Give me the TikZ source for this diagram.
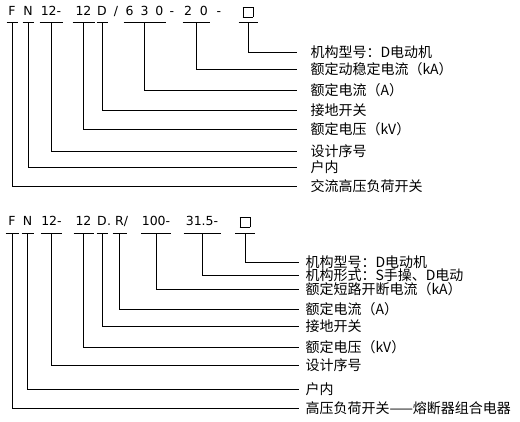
\documentclass[tikz,border=0pt]{standalone}
\usepackage{fontspec}
\newfontfamily\cjk{Noto Sans CJK SC}
\newfontfamily\codefont{DejaVu Sans}
\usepackage{tikz}
\newcommand{\modelbox}{{\setlength\fboxsep{0pt}\setlength\fboxrule{0.9pt}\fbox{\rule{0pt}{9pt}\hspace{9pt}}}}

\begin{document}
\begin{tikzpicture}[x=1pt,y=-1pt,line width=1pt]
\tikzstyle{code}=[anchor=south,inner xsep=0pt,inner ysep=6.7pt,text height=9pt,text depth=0pt,font=\codefont\fontsize{12.5}{12.5}\selectfont]
\tikzstyle{desc}=[anchor=west,inner ysep=0pt,font=\cjk\fontsize{14}{14}\selectfont]

\useasboundingbox (0,0) rectangle (520,421);

% FN12-12D/630-20
\node[code,minimum width=10](aF) at (12,22.7){F};
\node[code,minimum width=10](aN) at (28,22.7){N};
\node[code,minimum width=22](aS) at (51,22.7){12-};
\node[code,minimum width=21](aV) at (83.5,22.7){12};
\node[code,minimum width=10](aD) at (102,22.7){D};
\node[code](aSl) at (116,22.7){/};
\node[code,minimum width=41](aI) at (144.5,22.7){6\hspace{7pt}3\hspace{7pt}0};
\node[code](aH1) at (172,22.7){-};
\node[code,minimum width=26](aK) at (196,22.7){2\hspace{8pt}0};
\node[code](aH2) at (219,22.7){-};
\node[code,minimum width=18,inner ysep=5.7pt](aM) at (248,22.7){\modelbox};

\node[desc,inner xsep=13pt](lM) at (297,52){机构型号：D电动机};
\node[desc,inner xsep=13pt](lK) at (297,69){额定动稳定电流（kA）};
\node[desc,inner xsep=13pt](lI) at (297,90){额定电流（A）};
\node[desc,inner xsep=13pt](lD) at (297,110){接地开关};
\node[desc,inner xsep=13pt](lV) at (297,129){额定电压（kV）};
\node[desc,inner xsep=13pt](lS) at (297,151){设计序号};
\node[desc,inner xsep=13pt](lN) at (297,167){户内};
\node[desc,inner xsep=13pt](lF) at (297,186){交流高压负荷开关};

\foreach \n in {F,N,S,V,D,I,K,M}{
  \draw (a\n.south west) -- (a\n.south east);
  \draw (a\n.south) |- (l\n.west);
}

% FN12-12D.R/100-31.5
\node[code,minimum width=12](bF) at (12,233){F};
\node[code,minimum width=11](bN) at (27.5,233){N};
\node[code,minimum width=19](bS) at (51.5,233){12-};
\node[code,minimum width=19](bV) at (83.5,233){12};
\node[code,minimum width=10](bD) at (102,233){D};
\node[code](bPt) at (109,233){.};
\node[code,minimum width=13](bR) at (119.5,233){R};
\node[code](bSl) at (126,233){/};
\node[code,minimum width=29](bI) at (156,233){100-};
\node[code,minimum width=36](bK) at (202,233){31.5-};
\node[code,minimum width=19,inner ysep=5.7pt](bM) at (245,233){\modelbox};

\node[desc,inner xsep=6pt](mM) at (299,262){机构型号：D电动机};
\node[desc,inner xsep=6pt](mK) at (299,275){机构形式：S手操、D电动};
\node[desc,inner xsep=6pt](mI) at (299,289){额定短路开断电流（kA）};
\node[desc,inner xsep=6pt](mR) at (299,309){额定电流（A）};
\node[desc,inner xsep=6pt](mD) at (299,326){接地开关};
\node[desc,inner xsep=6pt](mV) at (299,347){额定电压（kV）};
\node[desc,inner xsep=6pt](mS) at (299,365){设计序号};
\node[desc,inner xsep=6pt](mN) at (299,389){户内};
\node[desc,inner xsep=6pt](mF) at (299,408){高压负荷开关——熔断器组合电器};

\foreach \n in {F,N,S,V,D,R,I,K,M}{
  \draw (b\n.south west) -- (b\n.south east);
  \draw (b\n.south) |- (m\n.west);
}
\end{tikzpicture}
\end{document}
